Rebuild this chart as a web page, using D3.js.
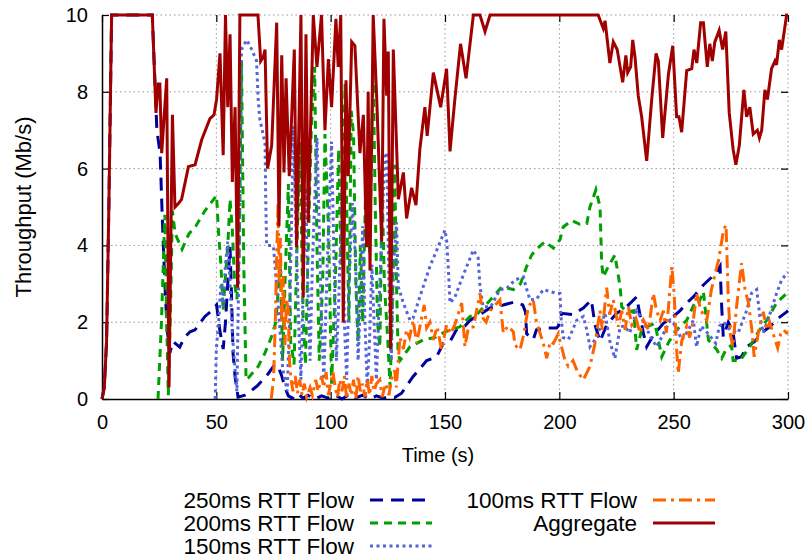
<!DOCTYPE html>
<html>
<head>
<meta charset="utf-8">
<script src="https://cdn.jsdelivr.net/npm/d3@7"></script>
<style>
  body { margin: 0; background: #fff; }
  text { font-family: "Liberation Sans", Arial, sans-serif; fill: #000; }
</style>
</head>
<body>
<div id="chart"></div>
<script>
// [time (s), throughput (Mb/s)]
var flow250 = [[0,0],[1,0.3],[2,1.5],[3,5],[4.2,10],[22,10],[23,8.5],[24,7.0],[25.4,6.4],[26.5,4.5],[27.5,3.0],[28.5,1.8],[29.7,1.2],[31,1.5],[34,1.35],[36,1.6],[38.5,1.75],[40.7,1.8],[45,2.15],[48,2.3],[50.1,2.45],[51.5,1.8],[53,1.3],[54,2.0],[55,3.0],[56,3.96],[56.7,2.58],[57.3,1.2],[58.2,0.58],[59.5,0.05],[62.5,0.1],[65,0.2],[68,0.35],[72,0.6],[75.6,0.9],[77,0.85],[78.6,0.6],[80,0.3],[81.5,0.08],[84,0.0],[86,0.12],[88,0.02],[90,0.1],[93,0.0],[96,0.08],[99,0.02],[102,0.1],[105,0.0],[108,0.12],[111,0.03],[114,0.1],[117,0.0],[120,0.08],[123,0.02],[126,0.06],[128,0.04],[131,0.15],[136,0.58],[142,1.0],[146.3,1.1],[149.3,1.45],[152.2,1.5],[155,1.8],[158.7,1.9],[161,2.05],[166,2.23],[169.7,2.37],[175.5,2.45],[180.6,2.53],[184,2.45],[185.2,2.27],[185.7,1.7],[188.6,1.55],[190,1.8],[194.4,1.85],[198.8,1.85],[199.6,1.9],[201,2.23],[206,2.2],[210.5,2.37],[214,2.58],[215.6,1.93],[217.8,1.5],[220.7,1.93],[225,2.23],[229.4,2.4],[233.8,2.66],[236.8,1.7],[238.2,1.36],[241.1,1.66],[245.5,1.97],[249.9,2.15],[252.8,2.3],[255.7,2.5],[258.6,2.66],[263,2.97],[268.9,3.3],[270.3,3.45],[271,2.4],[271.7,1.62],[273.9,2.0],[276,1.72],[277.5,1.06],[279.7,1.1],[281.9,1.36],[285.5,1.5],[288.4,1.72],[292,1.88],[295.7,2.1],[299.4,2.27],[300,2.3]];

var flow200 = [[24.5,0],[26,2.0],[27.5,4.8],[28.3,2.0],[29,0.1],[30,2.5],[30.8,4.9],[32,4.3],[35,3.9],[38,4.3],[41,4.5],[45,4.9],[50.1,5.3],[51,4.3],[52,3.5],[53,2.3],[54,3.2],[55,4.0],[56,5.2],[57,4.4],[58,3.0],[59,2.6],[60,3.8],[61,8.8],[62,3.5],[63,0.5],[64,0.55],[68.3,0.85],[71.3,1.2],[74,1.6],[76,2.0],[78,3.5],[79,1.0],[80,3.0],[81.5,5.6],[82.5,1.5],[84,0.9],[85.5,4.5],[86.5,6.7],[88,2.0],[89,0.9],[90,3.5],[91.5,7.0],[93,8.65],[94,4.0],[95,1.0],[96.5,3.0],[97.5,6.9],[99,4.5],[100.4,0.4],[102,3.0],[103.5,6.5],[104.5,3.5],[106.3,8.2],[107,5.0],[108,2.0],[109,7.5],[110,6.9],[111,3.0],[112,1.5],[113,4.0],[114,2.0],[115.5,6.0],[117,3.8],[118.6,8.55],[119.5,5.0],[120.5,2.0],[121.5,1.35],[122.5,5.5],[123.5,3.0],[125,1.5],[126,0.3],[127,2.5],[128,6.1],[128.8,3.0],[129.5,1.2],[130.3,1.0],[134.7,1.36],[140.5,1.54],[145.6,1.6],[150,1.75],[156.5,1.88],[161,2.15],[163.9,2.2],[167,2.4],[171.1,2.66],[174.8,2.92],[179.9,2.85],[183,3.0],[185.7,3.45],[187.9,3.75],[190,3.9],[193.7,4.1],[197.4,3.93],[200.3,4.15],[201.7,4.48],[205.4,4.65],[209,4.55],[212,4.57],[213.4,5.0],[216,5.45],[217.8,5.0],[218.5,3.54],[219.2,3.18],[221.4,3.45],[224.3,3.75],[226.6,2.92],[227.3,2.4],[229.4,2.27],[232.5,2.3],[233.8,1.28],[236,1.8],[239,1.9],[241.8,1.97],[244.8,1.1],[248,1.5],[251.3,1.8],[255.7,2.05],[259.4,2.53],[261,2.5],[263,2.8],[265.2,1.54],[268.9,1.28],[271,1.06],[273,1.3],[275.3,1.4],[276,1.0],[279,1.0],[283.3,1.36],[287,1.75],[290.7,2.05],[295,2.5],[299.4,2.75],[300,2.8]];

var flow150 = [[49.5,0],[50,1.3],[51,2.0],[52,3.0],[53,2.4],[54,3.5],[55,4.1],[56,3.0],[57,1.7],[58,0.9],[59,0.2],[60,4.0],[61,9.1],[63.3,9.35],[65.5,9.1],[67.6,8.8],[68.3,7.8],[69,7.3],[71.3,6.65],[71.6,5.2],[72,4.0],[74.2,4.0],[75,3.96],[77,2.5],[79,0.8],[81,0.2],[82,2.0],[83.7,7.1],[85,4.0],[86,2.0],[87,0.5],[88,3.0],[89,5.5],[90,3.0],[91,1.0],[92,3.5],[94,6.8],[95,4.5],[96,2.0],[97,0.5],[98.5,3.5],[100.4,6.7],[101.5,3.5],[102.5,1.0],[103.5,2.5],[105,5.5],[106,2.0],[107,0.5],[108,3.0],[109.5,5.1],[111,3.5],[112,1.0],[113,2.5],[114,4.5],[115,2.0],[116,0.3],[117,1.5],[118,3.5],[119,2.0],[120,0.5],[121.5,3.0],[123.7,6.4],[124.5,6.4],[125.5,3.0],[126.5,1.0],[127.5,3.5],[128.8,4.6],[129.6,2.92],[131.8,2.5],[134.7,2.05],[136,2.1],[139,2.66],[143.4,3.45],[147,3.96],[150,4.4],[150.7,4.15],[151.5,3.36],[152.2,2.5],[154.4,2.66],[156.5,3.0],[159.5,3.45],[162.4,3.88],[164.5,3.67],[165.3,2.92],[166.7,2.4],[170,2.4],[174,2.85],[177,2.88],[180.6,3.1],[184.3,3.18],[185.5,2.9],[187.2,2.58],[190,2.6],[193,2.85],[195.9,2.8],[198.8,2.75],[200.3,2.75],[200.7,2.15],[201.7,1.6],[204,1.55],[207.6,2.05],[210.5,2.15],[212,1.8],[213.4,1.36],[216.3,1.6],[220,2.23],[222.1,1.5],[224.3,1.06],[226.6,1.88],[228.5,1.9],[230.8,1.72],[233.8,2.3],[237,2.0],[240,1.6],[242.6,1.36],[245.5,1.7],[248.5,2.05],[251,1.9],[253.5,1.54],[256,1.75],[258.6,2.05],[260,1.36],[262,1.9],[264.8,1.72],[268.4,1.45],[270,1.9],[272,2.0],[274.7,1.8],[278.2,1.72],[281.9,2.3],[284,2.75],[286.3,2.85],[287.7,2.15],[289.2,1.72],[292,2.2],[295,2.75],[297.2,3.1],[299.4,3.27],[300,3.3]];

var flow100 = [[74,0],[75,0.5],[75.8,2.0],[76.3,3.5],[77,5.1],[77.5,3.0],[78,4.2],[78.6,2.0],[79.3,3.2],[80,1.4],[80.7,2.6],[81.5,2.3],[82,1.0],[82.7,0.5],[83.5,0.2],[84.5,0.6],[85.5,0.15],[86.5,0.5],[87.5,0.1],[88.5,0.4],[89.5,0.05],[91,0.3],[92,0.1],[93.5,0.5],[94.5,0.2],[96,0.6],[97,0.3],[98,0.7],[99,0.1],[100,0.4],[101,0.7],[102,0.3],[103,0.05],[104,0.5],[105,0.2],[106,0.6],[107,0.0],[108,0.4],[109,0.1],[110,0.5],[111,0.0],[112,0.6],[113,0.2],[114,0.4],[115,0.05],[116,0.5],[117,0.1],[118,0.6],[119,0.2],[120,0.4],[121.5,0.5],[122.5,0.05],[124,0.4],[125.5,0.1],[126.5,0.5],[128,0.75],[128.7,0.3],[130.3,1.6],[131.8,1.3],[133.2,1.8],[134.5,1.6],[136.1,2.05],[137.6,1.45],[139,1.88],[140.9,2.45],[142,1.85],[143.4,2.0],[144.9,1.54],[146.6,1.88],[148.5,1.28],[150.7,1.93],[152.5,1.7],[154.3,1.93],[157.3,2.5],[158.7,1.36],[160.2,1.85],[162.4,1.88],[165.3,2.75],[166.7,2.1],[168,2.0],[169.7,2.3],[174,2.58],[175.5,1.72],[177.5,1.9],[179.9,1.75],[180.6,1.4],[182.8,1.28],[184.5,1.7],[186.4,2.4],[188.6,2.58],[190,2.0],[193,1.45],[194.5,1.06],[196,1.5],[197.4,1.45],[199.5,1.7],[202.5,1.0],[203.9,0.85],[206,1.0],[208,0.7],[210.5,0.5],[213.4,0.85],[215.6,1.45],[217.8,2.3],[218.8,1.8],[220.7,2.9],[222,2.2],[223.6,2.58],[225.8,1.88],[227.3,2.3],[228.8,1.8],[230.2,2.4],[231.7,1.93],[233.5,2.1],[235.3,1.72],[236.8,2.05],[239,1.8],[241.1,2.75],[242.5,2.3],[244.1,2.05],[245.5,2.3],[246.8,1.72],[249.2,3.45],[250.2,2.75],[251.3,1.28],[252,0.67],[253.5,1.5],[255.7,1.9],[257,1.6],[258.6,2.05],[260,2.75],[262,2.3],[264.5,2.05],[266.5,2.85],[268.9,3.45],[269.6,3.6],[271.8,4.4],[272.9,4.53],[273.9,2.58],[274.7,1.72],[275.8,1.36],[277.5,2.4],[279.7,3.54],[281.2,2.85],[282.7,2.5],[284.2,1.8],[285.2,1.1],[287,1.72],[289.2,2.27],[290.7,1.8],[292,2.0],[293.4,1.72],[295.5,1.33],[296.8,1.7],[298,1.8],[299.4,1.72],[300,1.75]];

var aggregate = [[0,0],[1,0.3],[2,1.5],[3,5],[4.2,10],[22,10],[23.6,7.45],[24.6,8.2],[25.3,8.2],[26.1,6.4],[28.3,8.35],[29.3,0.3],[30.8,7.4],[31.9,5.0],[33.5,5.1],[34.8,5.2],[37.8,6.05],[40.7,6.1],[43.6,6.75],[47.2,7.3],[49,7.4],[50.1,7.8],[51.6,9.0],[53,6.35],[54,10],[55,7.6],[56,9.5],[57,5.65],[58.2,7.6],[59.3,2.9],[60.3,10],[68.2,10],[69.4,8.8],[70.5,8.9],[71.3,9.1],[72.4,6.0],[74.2,6.6],[76.4,9.8],[77.4,4.5],[78.6,8.95],[79.6,5.9],[80.5,8.35],[81.9,5.8],[84.1,9.1],[85.1,3.95],[87,10],[88,2.65],[89.2,9.5],[90.2,4.6],[92.4,10],[94,8.65],[96,10],[97.5,7.0],[99,8.85],[100.4,7.6],[102.3,9.9],[103.3,8.65],[104.4,10],[105.5,2.0],[106.7,8.3],[107.7,5.8],[109.2,9.3],[110.6,9.2],[112.8,6.4],[114.3,7.4],[115.7,3.95],[116.4,8.0],[117.2,3.35],[118.6,10],[120.1,7.9],[122.3,4.1],[123.3,9.9],[124.5,7.9],[125.2,9.05],[126.2,1.3],[127.4,9.1],[129.6,5.2],[131.8,5.9],[133.2,4.7],[135.4,5.5],[137.3,5.05],[139,6.5],[141.2,7.6],[142.2,6.85],[144.9,8.5],[148.1,7.6],[150.7,8.6],[152.2,6.45],[154.3,7.8],[156.8,9.25],[159.2,8.35],[162.4,10],[165.3,10],[167.5,9.57],[169.7,10],[217,10],[219.2,9.65],[220,9.85],[222.1,8.75],[223.6,9.3],[225.3,9.1],[227.7,8.25],[229.1,8.95],[229.9,8.5],[231.2,8.65],[232.1,9.35],[233.1,8.9],[234.5,7.9],[236,7.35],[238.2,6.2],[240.4,7.8],[242.3,9.0],[243.3,8.8],[245.2,6.8],[247.7,8.45],[249.6,9.2],[251.3,7.35],[252.3,7.35],[253.5,6.95],[255.7,8.55],[257.9,8.6],[258.9,9.1],[260.1,8.75],[261.8,9.8],[263,9.8],[264.7,8.65],[265.8,9.25],[266.9,8.8],[268,9.3],[269.9,9.6],[271.4,9.1],[272.8,9.57],[274.3,7.45],[276,6.5],[277.2,6.1],[278.7,6.6],[280.7,8.05],[281.9,7.35],[283.3,7.6],[284.8,6.9],[286.6,7.0],[287.5,6.8],[288.5,7.0],[289.9,8.05],[291,7.8],[292.8,8.6],[294.3,8.8],[295,8.7],[296.2,9.35],[297.2,9.1],[299.4,10],[300,10]];

var seriesNames = ["250ms RTT Flow", "200ms RTT Flow", "150ms RTT Flow", "100ms RTT Flow", "Aggregate"];
var xTicks = [0, 50, 100, 150, 200, 250, 300];
var yTicks = [0, 2, 4, 6, 8, 10];

var width = 811, height = 559;
var margin = {top: 15, right: 23, bottom: 160, left: 102};
var plotW = width - margin.left - margin.right,
    plotH = height - margin.top - margin.bottom;

var styles = [
  {color: "#00009a", dash: "13,8"},
  {color: "#00a000", dash: "8,6"},
  {color: "#5564d8", dash: "3,3.5"},
  {color: "#ff6300", dash: "13,5,3,5"},
  {color: "#a00000", dash: null}
];
var seriesData = [flow250, flow200, flow150, flow100, aggregate];

var svg = d3.select("#chart").append("svg")
    .attr("width", width)
    .attr("height", height);

var g = svg.append("g")
    .attr("transform", "translate(" + margin.left + "," + margin.top + ")");

var x = d3.scaleLinear().domain([0, 300]).range([0, plotW]);
var y = d3.scaleLinear().domain([0, 10]).range([plotH, 0]);

// Grid (also forms the dotted top and right edges)
g.append("g").selectAll("line").data(yTicks.slice(1)).enter().append("line")
    .attr("x1", 0).attr("x2", plotW)
    .attr("y1", function(d) { return y(d); }).attr("y2", function(d) { return y(d); })
    .attr("stroke", "#999").attr("stroke-width", 1).attr("stroke-dasharray", "1.5,3");
g.append("g").selectAll("line").data(xTicks.slice(1)).enter().append("line")
    .attr("y1", 0).attr("y2", plotH)
    .attr("x1", function(d) { return x(d); }).attr("x2", function(d) { return x(d); })
    .attr("stroke", "#999").attr("stroke-width", 1).attr("stroke-dasharray", "1.5,3");

// Axes
var xAxis = d3.axisBottom(x).tickValues(xTicks).tickSizeInner(-7).tickSizeOuter(0).tickPadding(16);
var yAxis = d3.axisLeft(y).tickValues(yTicks).tickSizeInner(-7).tickSizeOuter(0).tickPadding(14);

g.append("g").attr("transform", "translate(0," + plotH + ")").call(xAxis);
g.append("g").call(yAxis);

// mirrored ticks, no solid edge
g.append("g").attr("class", "mirror").call(d3.axisTop(x).tickValues(xTicks).tickSize(-7).tickFormat(""));
g.append("g").attr("class", "mirror").attr("transform", "translate(" + plotW + ",0)")
    .call(d3.axisRight(y).tickValues(yTicks).tickSize(-7).tickFormat(""));
g.selectAll(".mirror .domain").remove();

g.selectAll(".domain").attr("stroke", "#000").attr("stroke-width", 1.5);
g.selectAll(".tick line").attr("stroke", "#000").attr("stroke-width", 1.2);
svg.selectAll(".tick text").style("font-size", "20px").style("font-family", "Liberation Sans, Arial, sans-serif").attr("fill", "#000");

// Lines
var line = d3.line()
    .x(function(d) { return x(d[0]); })
    .y(function(d) { return y(d[1]); });

seriesData.forEach(function(data, i) {
  g.append("path")
      .datum(data)
      .attr("d", line)
      .attr("fill", "none")
      .attr("stroke", styles[i].color)
      .attr("stroke-width", 3)
      .attr("stroke-linejoin", "miter")
      .attr("stroke-dasharray", styles[i].dash);
});

// Axis titles
svg.append("text")
    .attr("x", 438)
    .attr("y", 462)
    .attr("text-anchor", "middle")
    .style("font-size", "20px")
    .text("Time (s)");

svg.append("text")
    .attr("transform", "translate(31," + (margin.top + plotH / 2) + ") rotate(-90)")
    .attr("text-anchor", "middle")
    .style("font-size", "22px")
    .text("Throughput (Mb/s)");

// Legend
var legendPos = [
  {tx: 354, ly: 500}, {tx: 354, ly: 523}, {tx: 354, ly: 546},
  {tx: 637, ly: 500}, {tx: 637, ly: 523}
];

var legend = svg.append("g").attr("class", "legend");
seriesNames.forEach(function(name, i) {
  var p = legendPos[i];
  legend.append("text")
      .attr("x", p.tx)
      .attr("y", p.ly)
      .attr("dy", "0.35em")
      .attr("text-anchor", "end")
      .style("font-size", "22.5px")
      .text(name);
  legend.append("line")
      .attr("x1", p.tx + 16).attr("x2", p.tx + 78)
      .attr("y1", p.ly).attr("y2", p.ly)
      .attr("stroke", styles[i].color)
      .attr("stroke-width", 3)
      .attr("stroke-dasharray", styles[i].dash);
});
</script>
</body>
</html>
